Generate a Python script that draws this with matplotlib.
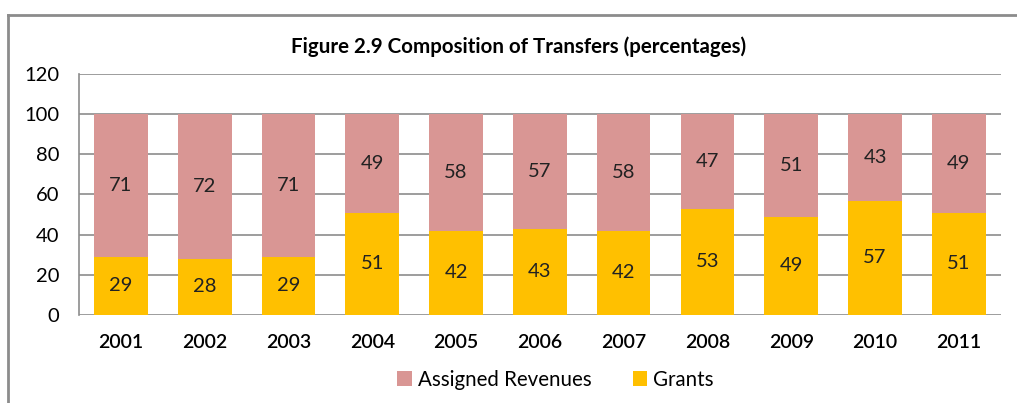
import matplotlib.pyplot as plt
from matplotlib.lines import Line2D

# data
years = ['2001', '2002', '2003', '2004', '2005', '2006', '2007', '2008', '2009', '2010', '2011']
grants = [29, 28, 29, 51, 42, 43, 42, 53, 49, 57, 51]
assigned = [71, 72, 71, 49, 58, 57, 58, 47, 51, 43, 49]

plt.rcParams['font.family'] = ['Lato', 'DejaVu Sans']

pink = '#D99694'
gold = '#FFC000'

fig = plt.figure(figsize=(10.17, 4.03), dpi=100)
ax = fig.add_axes([0.0777, 0.2184, 0.9063, 0.598])

x = range(len(years))
b1 = ax.bar(x, grants, width=0.64, color=gold, label='Grants', zorder=3)
b2 = ax.bar(x, assigned, width=0.64, bottom=grants, color=pink, label='Assigned Revenues', zorder=3)

# value labels
for i in x:
    ax.text(i, grants[i] / 2, str(grants[i]), ha='center', va='center', fontsize=14.5, color='#222222', zorder=4)
    ax.text(i, grants[i] + assigned[i] / 2, str(assigned[i]), ha='center', va='center', fontsize=14.5, color='#222222', zorder=4)

ax.set_ylim(0, 120)
ax.set_xlim(-0.5, len(years) - 0.5)
ax.set_yticks(range(0, 121, 20))
ax.set_xticks(list(x))
ax.set_xticklabels(years, fontsize=14, fontweight='semibold')
ax.tick_params(axis='y', labelsize=14.5, length=0, pad=14)
ax.tick_params(axis='x', length=0, pad=14)

ax.grid(axis='y', color='#8c8c8c', linewidth=1.2, zorder=0)
for s in ['top', 'right', 'bottom']:
    ax.spines[s].set_visible(False)
ax.spines['left'].set_color('#8c8c8c')
ax.spines['left'].set_linewidth(1.2)

fig.text(0.51, 0.885, 'Figure 2.9 Composition of Transfers (percentages)', ha='center', va='center',
         fontsize=14.8, fontweight='bold')

ax.legend(handles=[b2, b1], loc='upper center', bbox_to_anchor=(0.517, -0.15), ncol=2, frameon=False,
          fontsize=14.8, handlelength=0.7, handleheight=0.7, columnspacing=2.0, handletextpad=0.3)

# chart border (clipped by image edge)
fig.add_artist(Line2D([8 / 1017, 1.0], [1 - 15 / 403, 1 - 15 / 403], color='#8c8c8c', linewidth=2))
fig.add_artist(Line2D([8 / 1017, 8 / 1017], [0, 1 - 15 / 403], color='#8c8c8c', linewidth=2))

fig.savefig('out.png', dpi=100)
